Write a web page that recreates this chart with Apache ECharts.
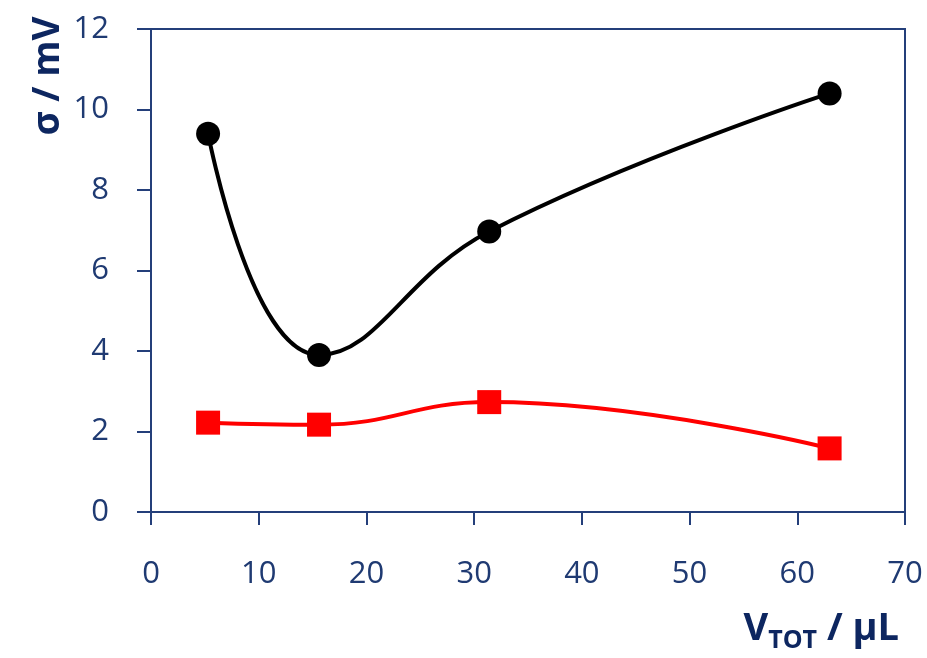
<!DOCTYPE html>
<html>
<head>
<meta charset="utf-8">
<script src="https://cdn.jsdelivr.net/npm/echarts@6/dist/echarts.min.js"></script>
<style>html,body{margin:0;padding:0;background:#fff;}#c{width:927px;height:658px;}</style>
</head>
<body>
<div id="c"></div>
<script>
const xBlack = [5.3, 15.6, 31.4, 63];
const yBlack = [9.4, 3.9, 6.97, 10.4];
const xRed = [5.3, 15.6, 31.4, 63];
const yRed = [2.22, 2.17, 2.73, 1.58];
const xTicks = [0, 10, 20, 30, 40, 50, 60, 70];
const yTicks = [0, 2, 4, 6, 8, 10, 12];

const axisColor = '#243f7a';
const labelColor = '#1f3a72';
const titleColor = '#0d2660';
const font = 'Open Sans';

const chart = echarts.init(document.getElementById('c'));
chart.setOption({
  animation: false,
  backgroundColor: '#fff',
  grid: { left: 151, right: 22, top: 29, bottom: 146, show: true, borderColor: axisColor, borderWidth: 2, backgroundColor: 'transparent' },
  xAxis: {
    type: 'value', min: xTicks[0], max: xTicks[xTicks.length - 1], interval: 10,
    axisLine: { show: true, lineStyle: { color: axisColor, width: 2 } },
    axisTick: { show: true, inside: false, length: 13, lineStyle: { color: axisColor, width: 2 } },
    axisLabel: { color: labelColor, fontFamily: font, fontSize: 31, margin: 47 },
    splitLine: { show: false }
  },
  yAxis: {
    type: 'value', min: yTicks[0], max: yTicks[yTicks.length - 1], interval: 2,
    axisLine: { show: true, lineStyle: { color: axisColor, width: 2 } },
    axisTick: { show: true, inside: false, length: 14, lineStyle: { color: axisColor, width: 2 } },
    axisLabel: { color: labelColor, fontFamily: font, fontSize: 31, margin: 42 },
    splitLine: { show: false }
  },
  graphic: [
    {
      type: 'text', x: 48, y: 76, rotation: Math.PI / 2,
      style: { text: 'σ / mV', fill: titleColor, font: 'bold 37px "Open Sans"', textAlign: 'center', textVerticalAlign: 'middle' }
    },
    {
      type: 'text', right: 28, top: 610,
      style: {
        text: '{a|V}{b|TOT}{a| / µL}',
        rich: {
          a: { fill: titleColor, fontFamily: font, fontWeight: 'bold', fontSize: 38, verticalAlign: 'bottom' },
          b: { fill: titleColor, fontFamily: font, fontWeight: 'bold', fontSize: 25, verticalAlign: 'bottom', padding: [0, 0, -5, 0] }
        }
      }
    }
  ],
  series: [
    {
      type: 'line', data: xBlack.map((x, i) => [x, yBlack[i]]), smooth: 0.45,
      symbol: 'circle', symbolSize: 24,
      lineStyle: { color: '#000', width: 4 }, itemStyle: { color: '#000' }
    },
    {
      type: 'line', data: xRed.map((x, i) => [x, yRed[i]]), smooth: 0.45,
      symbol: 'rect', symbolSize: 24,
      lineStyle: { color: '#ff0000', width: 4 }, itemStyle: { color: '#ff0000' }
    }
  ]
});
</script>
</body>
</html>
